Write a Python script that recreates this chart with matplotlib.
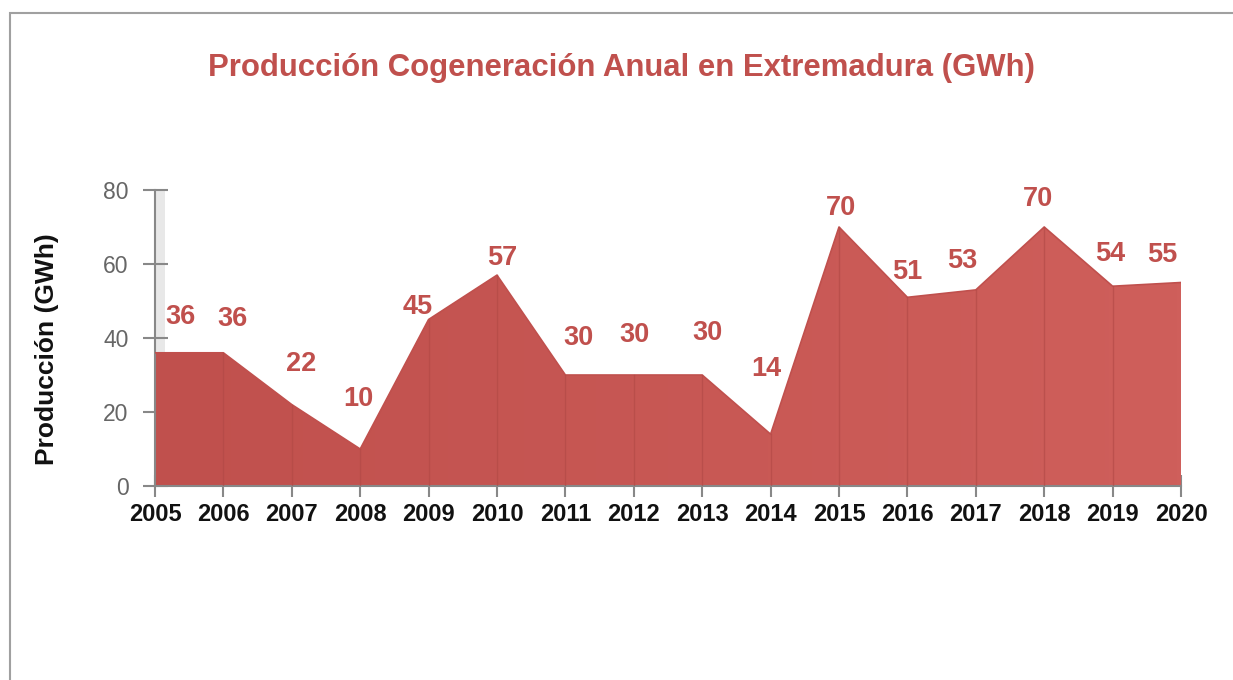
import numpy as np
import matplotlib
matplotlib.use("Agg")
import matplotlib.pyplot as plt
from matplotlib.patches import Rectangle, Polygon
from matplotlib.colors import LinearSegmentedColormap

plt.rcParams['font.family'] = ['Liberation Sans', 'DejaVu Sans']

years = [2005, 2006, 2007, 2008, 2009, 2010, 2011, 2012, 2013, 2014,
         2015, 2016, 2017, 2018, 2019, 2020]
produccion = [36, 36, 22, 10, 45, 57, 30, 30, 30, 14, 70, 51, 53, 70, 54, 55]
title = "Producción Cogeneración Anual en Extremadura (GWh)"
ylabel = "Producción (GWh)"
yticks = [0, 20, 40, 60, 80]

# label placement offsets (pixels) - style only
label_dx = [25, 9, 9, -2, -11, 5, 13, 1, 5, -4, 2, 0, -14, -6, -2, -19]
label_dy = [36, 34, 41, 50, 12, 17, 37, 40, 42, 65, 19, 25, 29, 28, 32, 28]

W, H = 1233, 680
fig = plt.figure(figsize=(W / 100, H / 100), dpi=100)
fig.patch.set_facecolor('white')

# outer frame
fig.add_artist(Rectangle((10 / W, -0.1), 1.2, (1 - 13 / H) + 0.1, transform=fig.transFigure,
                         fill=False, edgecolor='#a0a0a0', linewidth=1.5))

ax = fig.add_axes([155 / W, 1 - 486 / H, (1181 - 155) / W, (486 - 190) / H])
ax.set_xlim(years[0], years[-1])
ax.set_ylim(0, 80)

# gradient-filled area
cmap = LinearSegmentedColormap.from_list('g', ['#c0504d', '#cf5f5b'])
grad = np.linspace(0, 1, 256).reshape(1, -1)
im = ax.imshow(grad, extent=[years[0], years[-1], 0, 80], aspect='auto', cmap=cmap,
               origin='lower', zorder=2)
verts = [(years[0], 0)] + list(zip(years, produccion)) + [(years[-1], 0)]
poly = Polygon(verts, closed=True, facecolor='none', edgecolor='none', transform=ax.transData)
ax.add_patch(poly)
im.set_clip_path(poly)
ax.plot(years, produccion, color='#c0504d', linewidth=1.2, zorder=3)

# vertical separators inside the area
for x, v in zip(years[1:-1], produccion[1:-1]):
    ax.plot([x, x], [0, v], color='#b04845', linewidth=1.0, alpha=0.6, zorder=3)

# faint shading near the y axis
ax.axvspan(years[0], years[0] + 0.15, color='#e8e8e8', zorder=1, linewidth=0)

# data labels
for x, v, dx, dy in zip(years, produccion, label_dx, label_dy):
    ax.annotate(str(v), (x, v), xytext=(dx * 0.72, dy * 0.72), textcoords='offset points',
                ha='center', va='center', fontsize=19.5, fontweight='bold',
                color='#c0504d', zorder=5)

for s in ['top', 'right']:
    ax.spines[s].set_visible(False)
ax.spines['left'].set_color('#888888')
ax.spines['bottom'].set_color('#888888')
ax.spines['left'].set_linewidth(1.5)
ax.spines['bottom'].set_linewidth(1.5)
ax.set_facecolor('white')

ax.set_yticks(yticks)
ax.set_yticklabels([str(t) for t in yticks], fontsize=16.5, color='#666666')
ax.tick_params(axis='y', direction='inout', length=18, width=1.5, color='#888888', pad=10)
ax.set_xticks(years)
ax.set_xticklabels([str(y) for y in years], fontsize=17, fontweight='bold', color='#111111')
ax.tick_params(axis='x', direction='inout', length=16, width=1.5, color='#888888', pad=4)

fig.text(47 / W, 1 - 349 / H, ylabel, rotation=90, ha='center', va='center',
         fontsize=19, fontweight='bold', color='#111111')
fig.text(621 / W, 1 - 68 / H, title, ha='center', va='center',
         fontsize=22.4, fontweight='bold', color='#c0504d')

fig.savefig('out.png', dpi=100)
